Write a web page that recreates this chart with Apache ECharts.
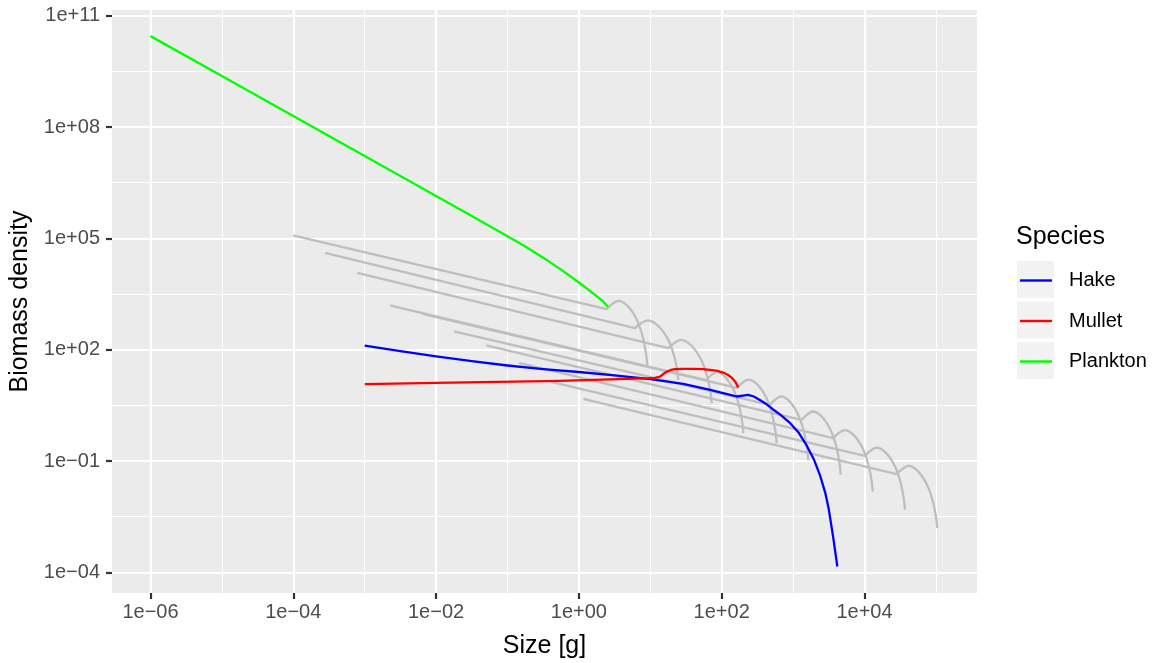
<!DOCTYPE html>
<html>
<head>
<meta charset="utf-8">
<script src="https://cdn.jsdelivr.net/npm/echarts@6/dist/echarts.min.js"></script>
<style>html,body{margin:0;padding:0;background:#fff}#chart{width:1158px;height:663px}</style>
</head>
<body>
<div id="chart"></div>
<script>
// All values are log10: x = log10(size [g]), y = log10(biomass density)
const xMajorTicks = [-6, -4, -2, 0, 2, 4];
const xMinorTicks = [-5, -3, -1, 1, 3, 5];
const yMajorTicks = [-4, -1, 2, 5, 8, 11];
const yMinorTicks = [-2.5, 0.5, 3.5, 6.5, 9.5];

const speciesNames = ['Hake', 'Mullet', 'Plankton'];

const hakeLogW = [-3, -2.5, -2, -1.5, -1, -0.5, 0, 0.5, 1.0, 1.46, 1.84, 2.05, 2.21, 2.30, 2.37, 2.45, 2.54, 2.63, 2.72, 2.82, 2.96, 3.08, 3.19, 3.29, 3.38, 3.45, 3.50, 3.56, 3.62];
const hakeLogB = [2.112, 1.96, 1.82, 1.69, 1.575, 1.48, 1.40, 1.31, 1.21, 1.08, 0.919, 0.82, 0.74, 0.765, 0.785, 0.74, 0.64, 0.53, 0.39, 0.25, 0.022, -0.24, -0.58, -0.95, -1.40, -1.85, -2.30, -3.03, -3.84];

const mulletLogW = [-3, -2, -0.919, -0.265, 0.436, 0.67, 0.95, 1.066, 1.136, 1.18, 1.23, 1.29, 1.346, 1.45, 1.603, 1.736, 1.836, 1.94, 2.023, 2.09, 2.14, 2.19, 2.233];
const mulletLogB = [1.073, 1.107, 1.143, 1.161, 1.20, 1.215, 1.228, 1.240, 1.277, 1.34, 1.412, 1.455, 1.475, 1.485, 1.485, 1.475, 1.458, 1.43, 1.385, 1.32, 1.25, 1.14, 0.981];

const planktonLogW = [-6, -5, -4, -3, -2, -1.5, -1, -0.75, -0.45, -0.2, 0.015, 0.2, 0.34, 0.41];
const planktonLogB = [10.45, 9.373, 8.296, 7.219, 6.142, 5.60, 5.058, 4.78, 4.42, 4.09, 3.79, 3.52, 3.30, 3.15];

// background species (grey): first point = smallest size, second = start of hump
const bgLogW = [
  [-3.990, 0.389, 0.473, 0.557, 0.655, 0.753, 0.837, 0.900, 0.942, 0.958],
  [-3.542, 0.786, 0.876, 0.966, 1.070, 1.175, 1.265, 1.332, 1.377, 1.392],
  [-3.090, 1.252, 1.342, 1.432, 1.537, 1.642, 1.732, 1.800, 1.845, 1.860],
  [-2.636, 1.781, 1.858, 1.936, 2.026, 2.116, 2.194, 2.252, 2.290, 2.303],
  [-2.179, 2.214, 2.296, 2.379, 2.475, 2.571, 2.653, 2.715, 2.756, 2.770],
  [-1.735, 2.676, 2.756, 2.835, 2.928, 3.021, 3.100, 3.160, 3.200, 3.213],
  [-1.283, 3.120, 3.201, 3.282, 3.377, 3.471, 3.552, 3.613, 3.654, 3.667],
  [-0.825, 3.563, 3.645, 3.727, 3.822, 3.918, 3.999, 4.061, 4.102, 4.115],
  [-0.377, 4.007, 4.090, 4.173, 4.270, 4.367, 4.450, 4.512, 4.553, 4.567],
  [0.076, 4.451, 4.535, 4.619, 4.717, 4.815, 4.899, 4.962, 5.004, 5.020]
];
const bgLogB = [
  [5.075, 3.093, 3.241, 3.317, 3.228, 3.011, 2.698, 2.304, 1.869, 1.592],
  [4.601, 2.581, 2.720, 2.792, 2.708, 2.505, 2.213, 1.847, 1.442, 1.189],
  [4.062, 2.042, 2.190, 2.266, 2.177, 1.961, 1.651, 1.261, 0.830, 0.561],
  [3.190, 1.180, 1.323, 1.396, 1.310, 1.102, 0.803, 0.427, 0.012, -0.247],
  [2.958, 0.970, 1.118, 1.195, 1.105, 0.889, 0.578, 0.187, -0.246, -0.516],
  [2.489, 0.515, 0.665, 0.742, 0.652, 0.433, 0.119, -0.276, -0.713, -0.985],
  [2.112, 0.111, 0.259, 0.335, 0.246, 0.030, -0.280, -0.670, -1.101, -1.370],
  [1.638, -0.382, -0.238, -0.164, -0.251, -0.461, -0.762, -1.140, -1.559, -1.820],
  [1.124, -0.858, -0.713, -0.638, -0.725, -0.938, -1.242, -1.625, -2.048, -2.313],
  [0.669, -1.351, -1.206, -1.131, -1.218, -1.431, -1.735, -2.118, -2.541, -2.806]
];

const X_MIN = -6.539, X_MAX = 5.576;
const Y_MIN = -4.555, Y_MAX = 11.154;

const FONT = "'Liberation Sans', Arial, Helvetica, sans-serif";

function expLabel(v) {
  const e = Math.round(v);
  return '1e' + (e < 0 ? '\u2212' : '+') + String(Math.abs(e)).padStart(2, '0');
}
function pairs(ws, bs) { return ws.map((w, i) => [w, bs[i]]); }

const GREY = '#BEBEBE';
const series = [];
bgLogW.forEach((ws, k) => {
  const all = pairs(ws, bgLogB[k]);
  // straight part
  series.push({
    name: 'bg' + (k + 1), type: 'line', data: all.slice(0, 2),
    symbol: 'none', smooth: false, silent: true, z: 2,
    lineStyle: { color: GREY, width: 2.3, cap: 'round' }, itemStyle: { color: GREY }
  });
  // hump part
  series.push({
    name: 'bg' + (k + 1), type: 'line', data: all.slice(1),
    symbol: 'none', smooth: 0.4, silent: true, z: 2,
    lineStyle: { color: GREY, width: 2.3, join: 'round' }, itemStyle: { color: GREY }
  });
});
const colored = [
  ['Hake', hakeLogW, hakeLogB, '#0000FF'],
  ['Mullet', mulletLogW, mulletLogB, '#FF0000'],
  ['Plankton', planktonLogW, planktonLogB, '#00FF00']
];
colored.forEach(([name, ws, bs, col], k) => {
  series.push({
    name: name, type: 'line', data: pairs(ws, bs),
    symbol: 'none', smooth: false, z: 3 + k,
    lineStyle: { color: col, width: 2.3, join: 'round' }, itemStyle: { color: col }
  });
});

const majorGrid = { show: true, lineStyle: { color: '#FFFFFF', width: 2.2 } };
const minorGrid = { show: true, lineStyle: { color: '#FFFFFF', width: 1.1 } };
const tickStyle = { color: '#333333', width: 2.2 };
const labelStyle = { color: '#4D4D4D', fontSize: 20, fontFamily: FONT, formatter: expLabel };

const option = {
  animation: false,
  backgroundColor: '#FFFFFF',
  textStyle: { fontFamily: FONT },
  grid: {
    left: 112, right: 181, top: 10, bottom: 70,
    show: true, backgroundColor: '#EBEBEB', borderWidth: 0,
    containLabel: false, outerBoundsMode: 'none'
  },
  title: {
    text: 'Species', left: 1016, top: 225, padding: 0,
    textStyle: { fontSize: 25, fontWeight: 'normal', color: '#000000', fontFamily: FONT }
  },
  legend: {
    data: speciesNames, orient: 'vertical', left: 1020, top: 270.5, padding: 0,
    icon: 'rect', itemWidth: 32, itemHeight: 2.4, itemGap: 20.5,
    textStyle: { fontSize: 20, color: '#000000', fontFamily: FONT, padding: [0, 0, 0, 12] },
    selectedMode: false, z: 10
  },
  graphic: [
    { type: 'rect', left: 1017, top: 261, z: 1, shape: { width: 37, height: 37 }, style: { fill: '#F2F2F2' } },
    { type: 'rect', left: 1017, top: 301.5, z: 1, shape: { width: 37, height: 37 }, style: { fill: '#F2F2F2' } },
    { type: 'rect', left: 1017, top: 342, z: 1, shape: { width: 37, height: 37 }, style: { fill: '#F2F2F2' } }
  ],
  xAxis: [
    {
      type: 'value', min: X_MIN, max: X_MAX, position: 'bottom',
      axisLine: { show: false, onZero: false },
      axisTick: { show: true, length: 6, lineStyle: tickStyle, customValues: xMajorTicks },
      axisLabel: Object.assign({ margin: 9, customValues: xMajorTicks }, labelStyle),
      splitLine: majorGrid,
      name: 'Size [g]', nameLocation: 'middle', nameGap: 41,
      nameTextStyle: { fontSize: 25, color: '#000000', fontFamily: FONT }
    },
    {
      type: 'value', min: X_MIN, max: X_MAX, position: 'bottom',
      axisLine: { show: false, onZero: false },
      axisTick: { show: false, customValues: xMinorTicks },
      axisLabel: { show: false, customValues: xMinorTicks },
      splitLine: minorGrid
    }
  ],
  yAxis: [
    {
      type: 'value', min: Y_MIN, max: Y_MAX, position: 'left',
      axisLine: { show: false, onZero: false },
      axisTick: { show: true, length: 6, lineStyle: tickStyle, customValues: yMajorTicks },
      axisLabel: Object.assign({ margin: 12, customValues: yMajorTicks }, labelStyle),
      splitLine: majorGrid,
      name: 'Biomass density', nameLocation: 'middle', nameGap: 75,
      nameTextStyle: { fontSize: 25, color: '#000000', fontFamily: FONT }
    },
    {
      type: 'value', min: Y_MIN, max: Y_MAX, position: 'left',
      axisLine: { show: false, onZero: false },
      axisTick: { show: false, customValues: yMinorTicks },
      axisLabel: { show: false, customValues: yMinorTicks },
      splitLine: minorGrid
    }
  ],
  series: series
};

const chart = echarts.init(document.getElementById('chart'), null, { renderer: 'canvas' });
chart.setOption(option);
</script>
</body>
</html>
